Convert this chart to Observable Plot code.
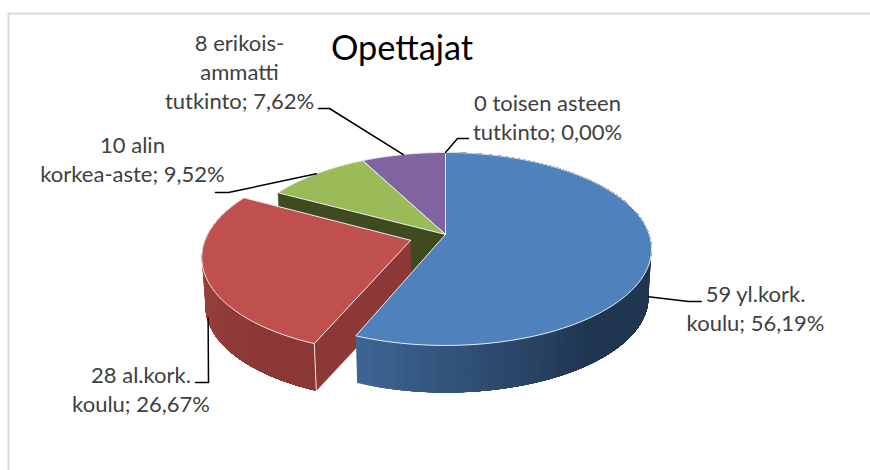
<!DOCTYPE html>
<html><head><meta charset="utf-8">
<script src="https://cdn.jsdelivr.net/npm/d3@7"></script>
<script src="https://cdn.jsdelivr.net/npm/@observablehq/plot@0.6"></script>
<style>html,body{margin:0;padding:0;background:#fff}svg{display:block}</style>
</head><body><div id="chart"></div>
<script>
// Data, clockwise from twelve o'clock
const counts = [59, 28, 10, 8, 0];
const names = ["yl.kork.\nkoulu", "al.kork.\nkoulu", "alin\nkorkea-aste", "erikois-\nammatti\ntutkinto", "toisen asteen\ntutkinto"];
const title = "Opettajat";
// Styles
const topColors = ["#4f81bd", "#c0504d", "#9bbb59", "#8064a2", "#4bacc6"];
const wallFrom = ["#3d6593", "#a84a44"], wallTo = ["#1f3550", "#8a3735"];
const oliveWall = "#3f4a1f", redCutWall = "#8c3836", edgeColor = "#e9ecef";
// Label layout
const labelX = [755, 140.5, 132, 239, 547];
const labelY = [301, 382.7, 152.7, 50, 110];       // first-line baselines
const elbows = [[[700.7,301],[688,301]], [[195,382],[208,382]], [[215,192],[228,192]], [[318,108],[329,108]], [[468,138],[457,138]]];
const anchorDepth = [0.9, 0.9, 0, 0, 0];

// Projection of the pie (a disc seen in perspective)
const cx = 445, cy = 234, Rx = 203.7, Ry = 94.3, persp = 0.15;
const depthY = 48.7, depthScale = 0.985, explode = [0, 0.18, 0, 0, 0];
const total = d3.sum(counts);
const rad = t => (t / total) * 2 * Math.PI;
const ends = d3.cumsum(counts);
const starts = ends.map((e, i) => e - counts[i]);

function proj(u, v, h = 0) {
  const s = 1 / (1 + persp * v), k = 1 - h * (1 - depthScale);
  return {x: cx + Rx * k * u * s, y: cy + h * depthY - Ry * k * v * s};
}
function offset(i) {
  const m = rad((starts[i] + ends[i]) / 2);
  return [explode[i] * Math.sin(m), explode[i] * Math.cos(m)];
}
const rim = (i, a, h = 0) => { const [ox, oy] = offset(i); return proj(ox + Math.sin(a), oy + Math.cos(a), h); };
const apex = (i, h = 0) => { const [ox, oy] = offset(i); return proj(ox, oy, h); };
const arcAngles = (a0, a1) => d3.range(0, 121).map(k => a0 + (a1 - a0) * k / 120);

function poly(id, pts, fill, stroke) {
  const closed = [...pts, pts[0]];
  return closed.map(p => ({id, x: p.x, y: p.y, fill, stroke}));
}
function topFace(i) {
  const pts = [apex(i), ...arcAngles(rad(starts[i]), rad(ends[i])).map(a => rim(i, a))];
  return poly("top" + i, pts, topColors[i], edgeColor);
}
function cutWall(i, a, color) {
  return poly("cut" + i, [apex(i), rim(i, a), rim(i, a, 1), apex(i, 1)], color, color);
}
// Rim wall shaded in overlapping steps (each step paints over the rest) so no seams show
function rimWall(i, a0, a1, n) {
  const out = [];
  const c = d3.interpolateRgb(wallFrom[i], wallTo[i]);
  const as = d3.range(0, n + 1).map(k => a0 + (a1 - a0) * k / n);
  for (let k = 0; k < n; k++) {
    const f = c(Math.min(1, k / (n * (i === 0 ? 0.3 : 0.85))));
    const pts = arcAngles(as[k], a1);
    out.push(...poly(`w${i}-${k}`, [...pts.map(a => rim(i, a)), ...pts.slice().reverse().map(a => rim(i, a, 1))], f, "none"));
  }
  return out;
}

const faces = (rows, w) => Plot.line(rows, {x: "x", y: "y", z: "id", fill: d => d.fill, stroke: d => d.stroke, strokeWidth: w, strokeLinejoin: "round"});

// Leader lines end on the slice's own middle angle
const leaders = counts.flatMap((c, i) => {
  const m = rad((starts[i] + ends[i]) / 2), h = anchorDepth[i];
  return [...elbows[i].map(([x, y]) => ({i, x, y})), {i, ...rim(i, m, h)}];
});
const redCorner = [rim(1, rad(starts[1])), rim(1, rad(starts[1]), 1)];
const pct = counts.map(c => (c / total * 100).toFixed(2).replace(".", ","));
const labels = counts.map((c, i) => ({x: labelX[i], y: labelY[i], text: `${c} ${names[i]}; ${pct[i]}%`}));
const labelSize = 22, labelLine = 29.3, titleSize = 34.3;

const plot = Plot.plot({
  width: 870, height: 470, margin: 0,
  x: {domain: [0, 870], range: [0, 870], axis: null},
  y: {domain: [0, 470], range: [0, 470], axis: null},
  color: {type: "identity"},
  style: {background: "#fff", fontFamily: "Lato, 'Noto Sans', sans-serif"},
  marks: [
    Plot.ruleX([8], {y1: 13, y2: 470, stroke: "#d9d9d9", strokeWidth: 2}),
    Plot.ruleY([13], {x1: 8, x2: 870, stroke: "#d9d9d9", strokeWidth: 2}),
    faces(cutWall(2, rad(starts[2]), oliveWall), 0.5),
    faces(topFace(3), 1),
    faces(topFace(2), 1),
    faces(cutWall(1, rad(starts[1]), redCutWall), 0.5),
    faces(rimWall(1, rad(ends[1]), rad(starts[1]), 48), 0),
    Plot.line(redCorner, {x: "x", y: "y", stroke: edgeColor, strokeWidth: 1}),
    faces(topFace(1), 1),
    faces(rimWall(0, rad(ends[0]), rad(starts[0]), 100), 0),
    faces(topFace(0), 1),
    Plot.line(leaders, {x: "x", y: "y", z: "i", stroke: "#000", strokeWidth: 1.5}),
    Plot.text(labels, {x: "x", y: "y", text: "text", fill: "#404040", fontSize: labelSize, lineHeight: labelLine / labelSize, lineAnchor: "top", textAnchor: "middle", dy: -0.71 * labelLine}),
    Plot.text([title], {x: () => 401.5, y: () => 59, text: d => d, fill: "#000", fontSize: titleSize, lineAnchor: "top", textAnchor: "middle", dy: -0.71 * titleSize})
  ]
});
document.getElementById("chart").append(plot);
</script></body></html>
